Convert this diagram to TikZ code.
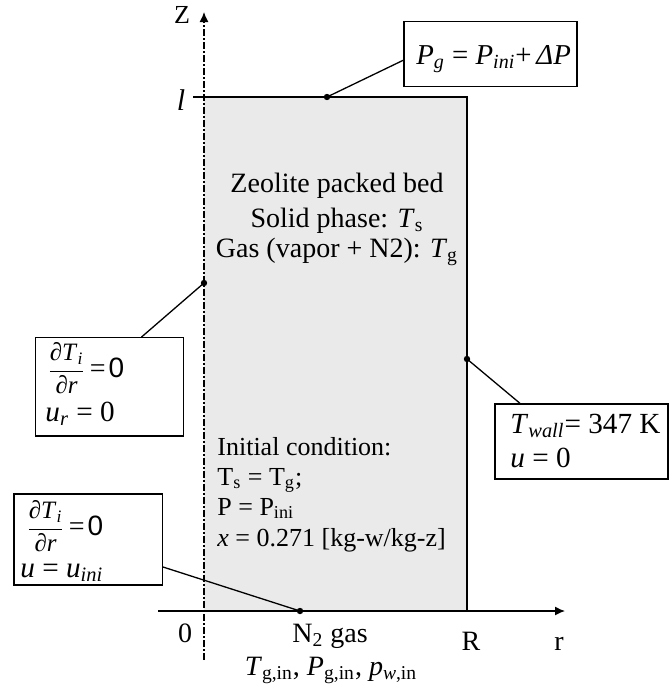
\documentclass[tikz,border=0pt]{standalone}
\usepackage{fontspec}
\setmainfont{Liberation Serif}
\setsansfont{Liberation Sans}
\usepackage{amsmath}
\usetikzlibrary{arrows.meta,calc}
\definecolor{bedgray}{HTML}{EAEAEA}
\newcommand{\dTr}{{\fontsize{12.5}{14}\selectfont$\dfrac{\text{\textit{∂T}\textsubscript{\textit{i}}}}{\text{\textit{∂r}}}$\kern2pt{\fontsize{14}{16}\selectfont=\kern1.5pt{\sffamily 0}}}}
\begin{document}
\begin{tikzpicture}[x=0.5pt,y=-0.5pt,
  every node/.style={font=\fontsize{13}{15}\selectfont, inner sep=0pt},
  bedtext/.style={font=\fontsize{14}{16}\selectfont, anchor=base},
  boxtext/.style={font=\fontsize{14.6}{17}\selectfont, anchor=base west},
  axtext/.style={font=\fontsize{14}{16}\selectfont, anchor=base},
  box/.style={draw, line width=0.65pt, fill=white},
  conn/.style={line width=0.65pt},
  thickline/.style={line width=1.4pt},
  axisline/.style={line width=0.65pt},
  dotmark/.style={circle, fill, inner sep=0pt, minimum size=3.2pt},
  tip/.style={-{Latex[length=5pt,width=4.5pt]}}]
\useasboundingbox (0,0) rectangle (669,691);
% bed
\fill[bedgray] (204,97) rectangle (467,611);
% axes
\coordinate (rs) at (158,611);
\coordinate (re) at (565,611);
\draw[axisline,tip] (rs) -- (re);
\coordinate (zs) at (204,660);
\coordinate (ze) at (204,12);
\draw[axisline,tip,dash pattern=on 3.5pt off 1.2pt on 0.6pt off 1.2pt] (zs) -- (ze);
% bed outline
\coordinate (b0) at (370,611);
\coordinate (b1c) at (467,611);
\coordinate (b2c) at (467,97);
\coordinate (b3c) at (204,97);
\draw[thickline] (b0) -- (b1c) -- (b2c) -- (b3c);
\coordinate (lt) at (193,97);
\draw[conn] (lt) -- (b3c);
% labels on axes
\node[anchor=base] (zlab) at (182,23) {Z};
\node[anchor=base, font=\fontsize{15}{17}\selectfont\itshape] (llab) at (181,110) {l};
\node[axtext] (zero) at (185,642) {0};
\node[axtext] (n2) at (330,642) {N\textsubscript{2} gas};
\node[axtext] (Rlab) at (471,650) {R};
\node[axtext] (rlab) at (559,650) {r};
\node[axtext] (inlet) at (331,675) {\textit{T}\textsubscript{g,in}, \textit{P}\textsubscript{g,in}, \textit{p}\textsubscript{\textit{w},in}};
% bed texts
\node[bedtext] (t1) at (337,192) {Zeolite packed bed};
\node[bedtext] (t2) at (337,227) {Solid phase: \textit{T}\textsubscript{s}};
\node[bedtext] (t3) at (337,257) {Gas (vapor + N2): \textit{T}\textsubscript{g}};
\node[anchor=base west] (i1) at (217,455) {Initial condition:};
\node[anchor=base west] (i2) at (217,485) {T\textsubscript{s} = T\textsubscript{g};};
\node[anchor=base west] (i3) at (217,515) {P = P\textsubscript{ini}};
\node[anchor=base west] (i4) at (217,546) {\textit{x} = 0.271 [kg-w/kg-z]};
% dots
\node[dotmark] (dtop) at (327,97) {};
\node[dotmark] (dleft) at (204,283) {};
\node[dotmark] (dwall) at (467,359) {};
\node[dotmark] (dbot) at (300,611) {};
% boxes
\node[box, minimum width=86.5pt, minimum height=32.5pt] (pbox) at (490.5,54.2) {};
\node[boxtext, font=\fontsize{14.4}{17}\selectfont] (ptxt) at (416,64) {\textit{P}\textsubscript{\textit{g}} = \textit{P}\textsubscript{\textit{ini}}+\,\textit{ΔP}};
\node[box, minimum width=73.8pt, minimum height=49.2pt] (bx1) at (109.5,386.9) {};
\node[anchor=base west] (f1) at (47,377) {\dTr};
\node[boxtext] (u1) at (45,421) {\textit{u}\textsubscript{\textit{r}} = 0};
\node[box, minimum width=86.5pt, minimum height=37.5pt] (bx2) at (581.5,441.5) {};
\node[boxtext] (tw) at (510,433) {\textit{T}\textsubscript{\textit{wall}}= 347 K};
\node[boxtext] (u2) at (510,467) {\textit{u} = 0};
\node[box, minimum width=74.2pt, minimum height=45.5pt] (bx3) at (88.2,539.5) {};
\node[anchor=base west] (f3) at (26,535) {\dTr};
\node[boxtext] (u3) at (20,577) {\textit{u} = \textit{u}\textsubscript{\textit{ini}}};
% connectors
\draw[conn] ($(pbox.west)+(0,6)$) -- (dtop.center);
\draw[conn] ($(bx1.north)+(32,0)$) -- (dleft.center);
\draw[conn] ($(bx2.north)+(-61.5,0)$) -- (dwall.center);
\draw[conn] ($(bx3.east)+(0,27.5)$) -- (dbot.center);
\end{tikzpicture}
\end{document}
